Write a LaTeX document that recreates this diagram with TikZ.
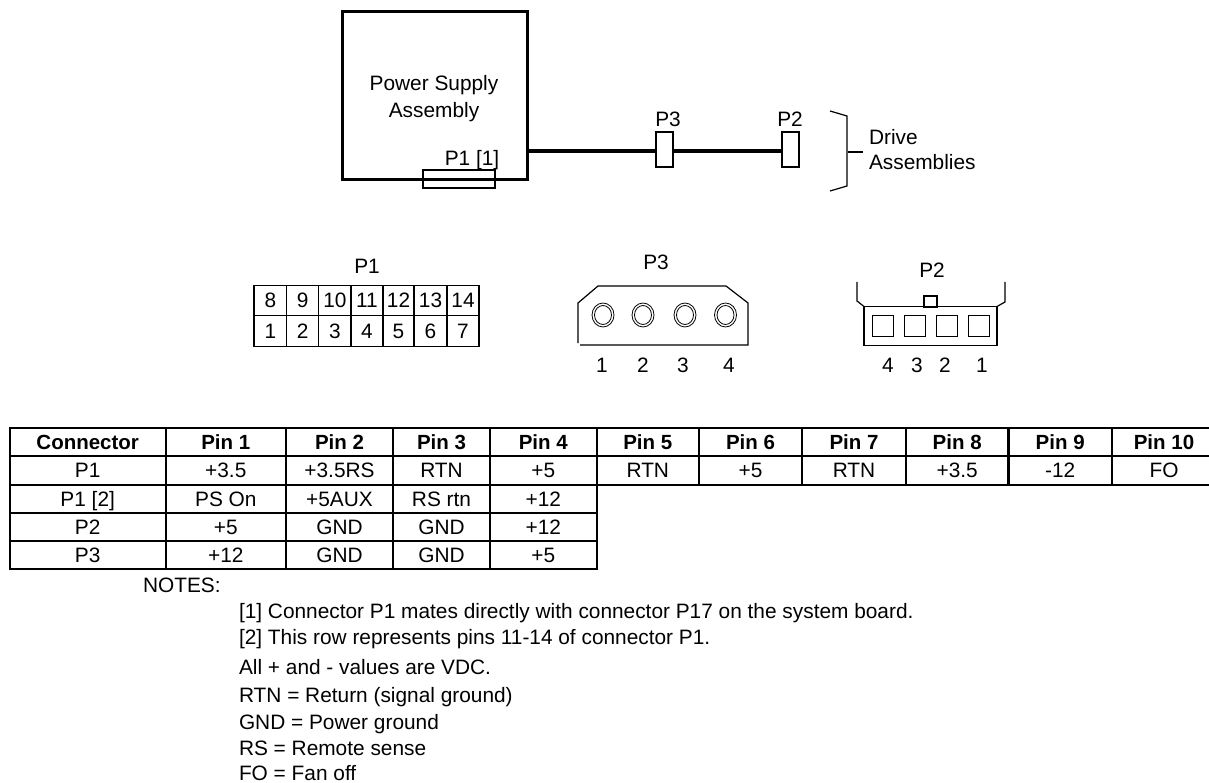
\documentclass[tikz,border=0pt]{standalone}
\usepackage{fontspec}
\setmainfont{Liberation Sans}
\tikzset{
  lab/.style={inner sep=0pt,outer sep=0pt,font=\fontsize{20.85}{24}\selectfont,text height=14.9pt,text depth=0pt,anchor=center},
  leftlab/.style={lab,anchor=west},
  bold/.style={lab,font=\fontsize{20.5}{24}\selectfont\bfseries},
  thin box/.style={draw,line width=1.2pt,inner sep=0pt,outer sep=0pt,fill=white},
  pincell/.style={draw,line width=1.2pt,inner sep=0pt,outer sep=0pt,minimum height=30.5pt,font=\fontsize{20.85}{24}\selectfont,text height=14.9pt,text depth=0pt},
  rule/.style={line width=2.4pt},
  ol/.style={line width=1.2pt}
}
\begin{document}
\begin{tikzpicture}[x=1pt,y=-1pt]
\useasboundingbox (0,0) rectangle (1209,783);
% top block
\node[draw,line width=3pt,inner sep=0pt,outer sep=0pt,minimum width=185pt,minimum height=168pt] (psu) at (434.5,96) {};
\node[lab] (t1) at (434,83) {Power Supply};
\node[lab] (t2) at (434,110) {Assembly};
\node[lab] (t3) at (472,158) {P1 [1]};
\node[thin box,fill=none,minimum width=72pt,minimum height=18pt] (p1con) at (459,179) {};
\node[thin box,minimum width=17pt,minimum height=35pt] (p3box) at (664.5,149.5) {};
\node[thin box,minimum width=17pt,minimum height=35pt] (p2box) at (790.5,149.5) {};
\coordinate (wire) at (psu.east |- 0,151);
\draw[line width=4.5pt] (wire) -- (p3box.west |- wire);
\draw[line width=4.5pt] (p3box.east |- wire) -- (p2box.west |- wire);
\node[lab] (l3) at (668,119) {P3};
\node[lab] (l2) at (790,119) {P2};
\coordinate (b1) at (830,111);
\coordinate (b2) at (847,116);
\coordinate (b3) at (847,186);
\coordinate (b4) at (830,191);
\draw[ol] (b1) -- (b2) -- (b3) -- (b4);
\coordinate (t1a) at (848,152);
\coordinate (t1b) at (863,152);
\draw[ol] (t1a) -- (t1b);
\node[leftlab] (d1) at (869,137) {Drive};
\node[leftlab] (d2) at (869,162) {Assemblies};
% P1 connector
\node[lab] (p1t) at (367,266) {P1};
\foreach \a/\b/\t [count=\i] in {254/286.7/8,286.7/318.7/9,318.7/351/10,351/383/11,383/414/12,414/447/13,447/479/14}{
  \node[pincell,minimum width={\b-\a}] (u\i) at ({(\a+\b)/2},300.5) {\t};
}
\foreach \a/\b/\t [count=\i] in {254/286.7/1,286.7/318.7/2,318.7/351/3,351/383/4,383/414/5,414/447/6,447/479/7}{
  \node[pincell,minimum width={\b-\a}] (v\i) at ({(\a+\b)/2},331) {\t};
}
% P3 connector
\node[lab] (p3t) at (656,262) {P3};
\coordinate (a1) at (578,343);
\coordinate (a2) at (578,303);
\coordinate (a3) at (598,286);
\coordinate (a4) at (726,286);
\coordinate (a5) at (748,303);
\coordinate (a6) at (748,345);
\coordinate (a7) at (580,345);
\draw[ol] (a1) -- (a2) -- (a3) -- (a4) -- (a5) -- (a6) -- (a7);
\foreach \x/\t in {603/1,643/2,685/3,725.5/4}{
  \draw[line width=.8pt] (\x,315) ellipse (11pt and 12pt);
  \draw[line width=.8pt] (\x,315) ellipse (8.5pt and 9.5pt);
}
\node[lab] (n1) at (602,365) {1};
\node[lab] (n2) at (643,365) {2};
\node[lab] (n3) at (683,365) {3};
\node[lab] (n4) at (729,365) {4};
% P2 connector
\node[lab] (p2t) at (932,270) {P2};
\node[draw,line width=1.1pt,inner sep=0pt,outer sep=0pt,minimum width=133pt,minimum height=39pt] (p2body) at (930.5,326) {};
\node[thin box,minimum width=13pt,minimum height=11pt] (key) at (930.5,301.5) {};
\foreach \x [count=\i] in {882.5,914.5,946.5,978.5}{
  \node[draw,line width=1pt,inner sep=0pt,minimum width=21pt,minimum height=20pt] (s\i) at (\x,326) {};
}
\coordinate (c1) at (857,282);
\coordinate (c2) at (857,301);
\coordinate (c3) at (1005,282);
\coordinate (c4) at (1005,302);
\draw[ol] (c1) -- (c2) -- (p2body.north west);
\draw[ol] (c3) -- (c4) -- (p2body.north east);
\node[lab] (m4) at (888,365) {4};
\node[lab] (m3) at (917,365) {3};
\node[lab] (m2) at (945,365) {2};
\node[lab] (m1) at (982,365) {1};
% table
\foreach \y in {428,456,485}{\draw[rule] (9,\y) -- (1209,\y);}
\foreach \y in {513,541,569}{\draw[rule] (9,\y) -- (597.7,\y);}
\foreach \x in {9.7,165.7,286,393,490,596.7}{\draw[rule] (\x,427) -- (\x,570);}
\foreach \x in {699,802,906,1008.5,1112}{\draw[rule] (\x,427) -- (\x,486);}
\foreach \c/\x/\t in {Connector/87.7/a,{Pin 1}/225.8/b,{Pin 2}/339.5/c,{Pin 3}/441.5/d,{Pin 4}/543.3/e,{Pin 5}/647.8/f,{Pin 6}/750.5/g,{Pin 7}/854/h,{Pin 8}/957.2/i,{Pin 9}/1060.2/j,{Pin 10}/1164/k}{
  \node[bold] (h\t) at (\x,442) {\c};
}
\foreach \c/\x/\t in {P1/87.7/a,+3.5/225.8/b,+3.5RS/339.5/c,RTN/441.5/d,+5/543.3/e,RTN/647.8/f,+5/750.5/g,RTN/854/h,+3.5/957.2/i,-12/1060.2/j,FO/1164/k}{
  \node[lab] (r\t) at (\x,470.5) {\c};
}
\foreach \c/\x/\t in {{P1 [2]}/87.7/a,PS On/225.8/b,+5AUX/339.5/c,RS rtn/441.5/d,+12/543.3/e}{
  \node[lab] (q\t) at (\x,499) {\c};
}
\foreach \c/\x/\t in {P2/87.7/a,+5/225.8/b,GND/339.5/c,GND/441.5/d,+12/543.3/e}{
  \node[lab] (w\t) at (\x,527) {\c};
}
\foreach \c/\x/\t in {P3/87.7/a,+12/225.8/b,GND/339.5/c,GND/441.5/d,+5/543.3/e}{
  \node[lab] (z\t) at (\x,555) {\c};
}
% notes
\node[leftlab] (notes) at (143,585) {NOTES:};
\node[leftlab] (n1l) at (239,611) {[1] Connector P1 mates directly with connector P17 on the system board.};
\node[leftlab] (n2l) at (239,637) {[2] This row represents pins 11-14 of connector P1.};
\node[leftlab] (n3l) at (239,667) {All + and - values are VDC.};
\node[leftlab] (n4l) at (239,695) {RTN = Return (signal ground)};
\node[leftlab] (n5l) at (239,722) {GND = Power ground};
\node[leftlab] (n6l) at (239,748) {RS = Remote sense};
\node[leftlab] (n7l) at (239,773) {FO = Fan off};
\end{tikzpicture}
\end{document}
